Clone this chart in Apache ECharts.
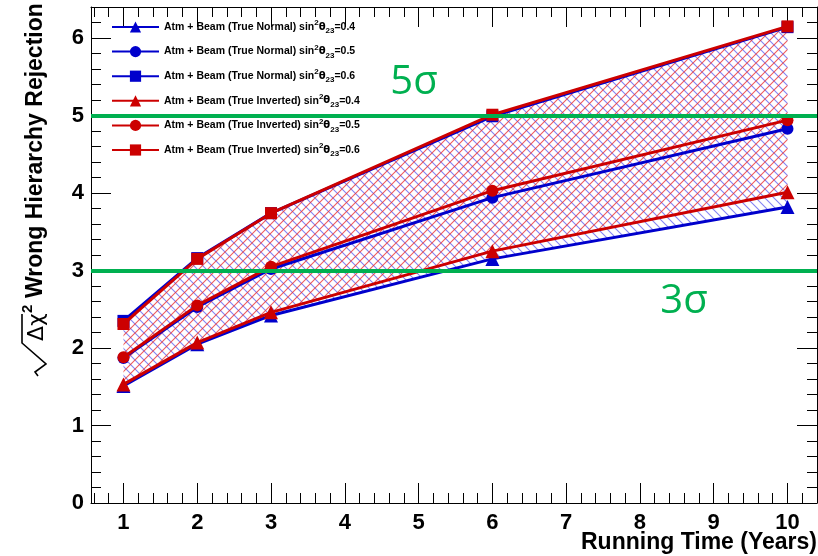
<!DOCTYPE html>
<html>
<head>
<meta charset="utf-8">
<script src="https://cdn.jsdelivr.net/npm/echarts@6/dist/echarts.min.js"></script>
<style>
  html, body { margin: 0; padding: 0; background: #fff; }
  #chart { width: 818px; height: 556px; }
</style>
</head>
<body>
<div id="chart"></div>
<script>
// Running time in years
const years = [1, 2, 3, 6, 10];

// sqrt(delta chi^2) for rejecting the wrong mass hierarchy
const normal04   = [1.51, 2.05, 2.42, 3.15, 3.82];
const normal05   = [1.87, 2.53, 3.02, 3.94, 4.83];
const normal06   = [2.35, 3.16, 3.74, 4.99, 6.14];
const inverted04 = [1.53, 2.07, 2.46, 3.25, 4.01];
const inverted05 = [1.88, 2.55, 3.05, 4.03, 4.94];
const inverted06 = [2.31, 3.15, 3.74, 5.01, 6.15];

// Axis ticks and labels
const xTickValues = [1, 2, 3, 4, 5, 6, 7, 8, 9, 10];
const xMinorTickValues = [];
for (let v = 0.6; v < 10.41; v += 0.2) xMinorTickValues.push(Math.round(v * 10) / 10);

// Significance reference levels
const sigmaLevels = [5, 3];
const sigmaTexts = ['5σ', '3σ'];

const hierarchies = ['Normal', 'Inverted'];
const sin2Values = ['0.4', '0.5', '0.6'];

const BLUE = '#0000cc';
const RED = '#cc0000';
const GREEN = '#00b050';
const FONT = '"Liberation Sans", Arial, Helvetica, sans-serif';

// Diagonal hatch tiles for the sin^2 theta_23 bands
function hatchTile(color, dir) {
  const s = 9;
  const c = document.createElement('canvas');
  c.width = s; c.height = s;
  const g = c.getContext('2d');
  g.strokeStyle = color;
  g.lineWidth = 1.1;
  g.beginPath();
  if (dir === '/') {
    g.moveTo(-1, s + 1); g.lineTo(s + 1, -1);
    g.moveTo(-1, 1); g.lineTo(1, -1);
    g.moveTo(s - 1, s + 1); g.lineTo(s + 1, s - 1);
  } else {
    g.moveTo(-1, -1); g.lineTo(s + 1, s + 1);
    g.moveTo(s - 1, -1); g.lineTo(s + 1, 1);
    g.moveTo(-1, s - 1); g.lineTo(1, s + 1);
  }
  g.stroke();
  return c;
}
const blueHatch = hatchTile('rgba(50,50,235,0.6)', '\\');
const redHatch = hatchTile('rgba(235,40,40,0.75)', '/');

function bandSeries(name, lower, upper, tile, z) {
  return {
    name: name,
    type: 'custom',
    silent: true,
    z: z,
    data: years.map((x, i) => [x, lower[i], upper[i]]),
    encode: { x: 0, y: [1, 2] },
    renderItem: function (params, api) {
      if (params.dataIndex !== 0) return null;
      const pts = [];
      for (let i = 0; i < years.length; i++) pts.push(api.coord([years[i], lower[i]]));
      for (let i = years.length - 1; i >= 0; i--) pts.push(api.coord([years[i], upper[i]]));
      return {
        type: 'polygon',
        shape: { points: pts },
        style: { fill: { image: tile, repeat: 'repeat' }, stroke: null }
      };
    }
  };
}

const symbols = ['triangle', 'circle', 'rect'];
const symbolSizes = [14, 12, 12];

function seriesName(h, k) {
  return 'Atm + Beam (True ' + hierarchies[h] + ') sin2θ23=' + sin2Values[k];
}

function lineSeries(h, k, values, color) {
  return {
    name: seriesName(h, k),
    type: 'line',
    z: 3 + h,
    data: years.map((x, i) => [x, values[i]]),
    symbol: symbols[k],
    symbolSize: symbolSizes[k],
    showAllSymbol: true,
    lineStyle: { color: color, width: 3 },
    itemStyle: { color: color },
    emphasis: { disabled: true },
    animation: false
  };
}

const series = [
  bandSeries('band-normal', normal04, normal06, blueHatch, 1),
  bandSeries('band-inverted', inverted04, inverted06, redHatch, 2),
  lineSeries(0, 0, normal04, BLUE),
  lineSeries(0, 1, normal05, BLUE),
  lineSeries(0, 2, normal06, BLUE),
  lineSeries(1, 0, inverted04, RED),
  lineSeries(1, 1, inverted05, RED),
  lineSeries(1, 2, inverted06, RED),
  {
    name: 'sigma-levels',
    type: 'line',
    data: [],
    z: 6,
    markLine: {
      silent: true,
      symbol: 'none',
      label: { show: false },
      lineStyle: { color: GREEN, width: 4, type: 'solid' },
      data: sigmaLevels.map(v => ({ yAxis: v }))
    }
  }
];

const legendNames = [];
for (let h = 0; h < 2; h++) for (let k = 0; k < 3; k++) legendNames.push(seriesName(h, k));

const tickBase = { lineStyle: { color: '#000', width: 1 } };

const chart = echarts.init(document.getElementById('chart'), null, { renderer: 'canvas' });
chart.setOption({
  animation: false,
  backgroundColor: '#fff',
  grid: { left: 91, top: 7, right: 1, bottom: 53, containLabel: false },
  legend: {
    data: legendNames,
    orient: 'vertical',
    left: 106,
    top: 14,
    itemWidth: 47,
    itemHeight: 14,
    itemGap: 8.6,
    selectedMode: false,
    textStyle: {
      fontFamily: FONT, fontWeight: 'bold', fontSize: 10.5, color: '#000', lineHeight: 16,
      rich: {
        sup: { fontFamily: FONT, fontWeight: 'bold', fontSize: 8, lineHeight: 8, verticalAlign: 'top', color: '#000' },
        sub: { fontFamily: FONT, fontWeight: 'bold', fontSize: 8, lineHeight: 8, verticalAlign: 'bottom', color: '#000' },
        gr: { fontFamily: 'DejaVu Sans', fontSize: 10, color: '#000' }
      }
    },
    formatter: function (name) {
      const m = name.match(/True (\w+)\) sin2θ23=([\d.]+)/);
      return 'Atm + Beam (True ' + m[1] + ') sin{sup|2}{gr|θ}{sub|23}=' + m[2];
    }
  },
  xAxis: [
    {
      type: 'value', position: 'bottom', min: 0.56, max: 10.4,
      axisLine: { show: true, onZero: false, lineStyle: { color: '#000', width: 1 } },
      axisTick: Object.assign({ show: true, inside: true, length: 20, customValues: xTickValues }, tickBase),
      axisLabel: { show: true, customValues: xTickValues, margin: 9, fontFamily: FONT, fontWeight: 'bold', fontSize: 22, color: '#000' },
      splitLine: { show: false }
    },
    {
      type: 'value', position: 'bottom', min: 0.56, max: 10.4,
      axisLine: { show: false, onZero: false },
      axisTick: Object.assign({ show: true, inside: true, length: 10, customValues: xMinorTickValues }, tickBase),
      axisLabel: { show: false },
      splitLine: { show: false }
    },
    {
      type: 'value', position: 'top', min: 0.56, max: 10.4,
      axisLine: { show: true, onZero: false, lineStyle: { color: '#000', width: 1 } },
      axisTick: Object.assign({ show: true, inside: true, length: 20, customValues: xTickValues }, tickBase),
      axisLabel: { show: false },
      splitLine: { show: false }
    },
    {
      type: 'value', position: 'top', min: 0.56, max: 10.4,
      axisLine: { show: false, onZero: false },
      axisTick: Object.assign({ show: true, inside: true, length: 10, customValues: xMinorTickValues }, tickBase),
      axisLabel: { show: false },
      splitLine: { show: false }
    }
  ],
  yAxis: [
    {
      type: 'value', position: 'left', min: 0, max: 6.4, interval: 1,
      axisLine: { show: true, onZero: false, lineStyle: { color: '#000', width: 1 } },
      axisTick: Object.assign({ show: true, inside: true, length: 20 }, tickBase),
      minorTick: { show: true, splitNumber: 5, length: 10, lineStyle: { color: '#000', width: 1 } },
      axisLabel: { show: true, margin: 7, showMaxLabel: false, fontFamily: FONT, fontWeight: 'bold', fontSize: 22, color: '#000' },
      splitLine: { show: false },
      minorSplitLine: { show: false }
    },
    {
      type: 'value', position: 'right', min: 0, max: 6.4, interval: 1,
      axisLine: { show: true, onZero: false, lineStyle: { color: '#000', width: 1 } },
      axisTick: Object.assign({ show: true, inside: true, length: 20 }, tickBase),
      minorTick: { show: true, splitNumber: 5, length: 10, lineStyle: { color: '#000', width: 1 } },
      axisLabel: { show: false },
      splitLine: { show: false }
    }
  ],
  graphic: [
    {
      type: 'text', right: 1, top: 531, z: 10,
      style: { text: 'Running Time (Years)', fontFamily: FONT, fontWeight: 'bold', fontSize: 23, fill: '#000' }
    },
    {
      type: 'text', x: 414, y: 83, z: 10,
      style: { text: sigmaTexts[0], fontFamily: '"Open Sans", "Noto Sans", sans-serif', fontSize: 40, fill: GREEN, align: 'center', verticalAlign: 'middle' }
    },
    {
      type: 'text', x: 684, y: 302, z: 10,
      style: { text: sigmaTexts[1], fontFamily: '"Open Sans", "Noto Sans", sans-serif', fontSize: 40, fill: GREEN, align: 'center', verticalAlign: 'middle' }
    },
    {
      // rotated y-axis title: sqrt(delta chi^2) Wrong Hierarchy Rejection
      type: 'group', x: 36, y: 376, rotation: Math.PI / 2, z: 10,
      children: [
        {
          type: 'polyline',
          shape: { points: [[0, 2], [4, -1], [12, 10], [33, -14], [62, -14]] },
          style: { stroke: '#000', lineWidth: 1.6, fill: null, lineJoin: 'miter' }
        },
        { type: 'text', x: 35, y: 1, style: { text: 'Δχ', fontFamily: 'DejaVu Sans', fontSize: 22, fill: '#000', verticalAlign: 'middle' } },
        { type: 'text', x: 63, y: -8, style: { text: '2', fontFamily: FONT, fontWeight: 'bold', fontSize: 15, fill: '#000', verticalAlign: 'middle' } },
        { type: 'text', x: 78, y: 0, style: { text: 'Wrong Hierarchy Rejection', fontFamily: FONT, fontWeight: 'bold', fontSize: 23, fill: '#000', verticalAlign: 'middle' } }
      ]
    }
  ],
  series: series
});
</script>
</body>
</html>
